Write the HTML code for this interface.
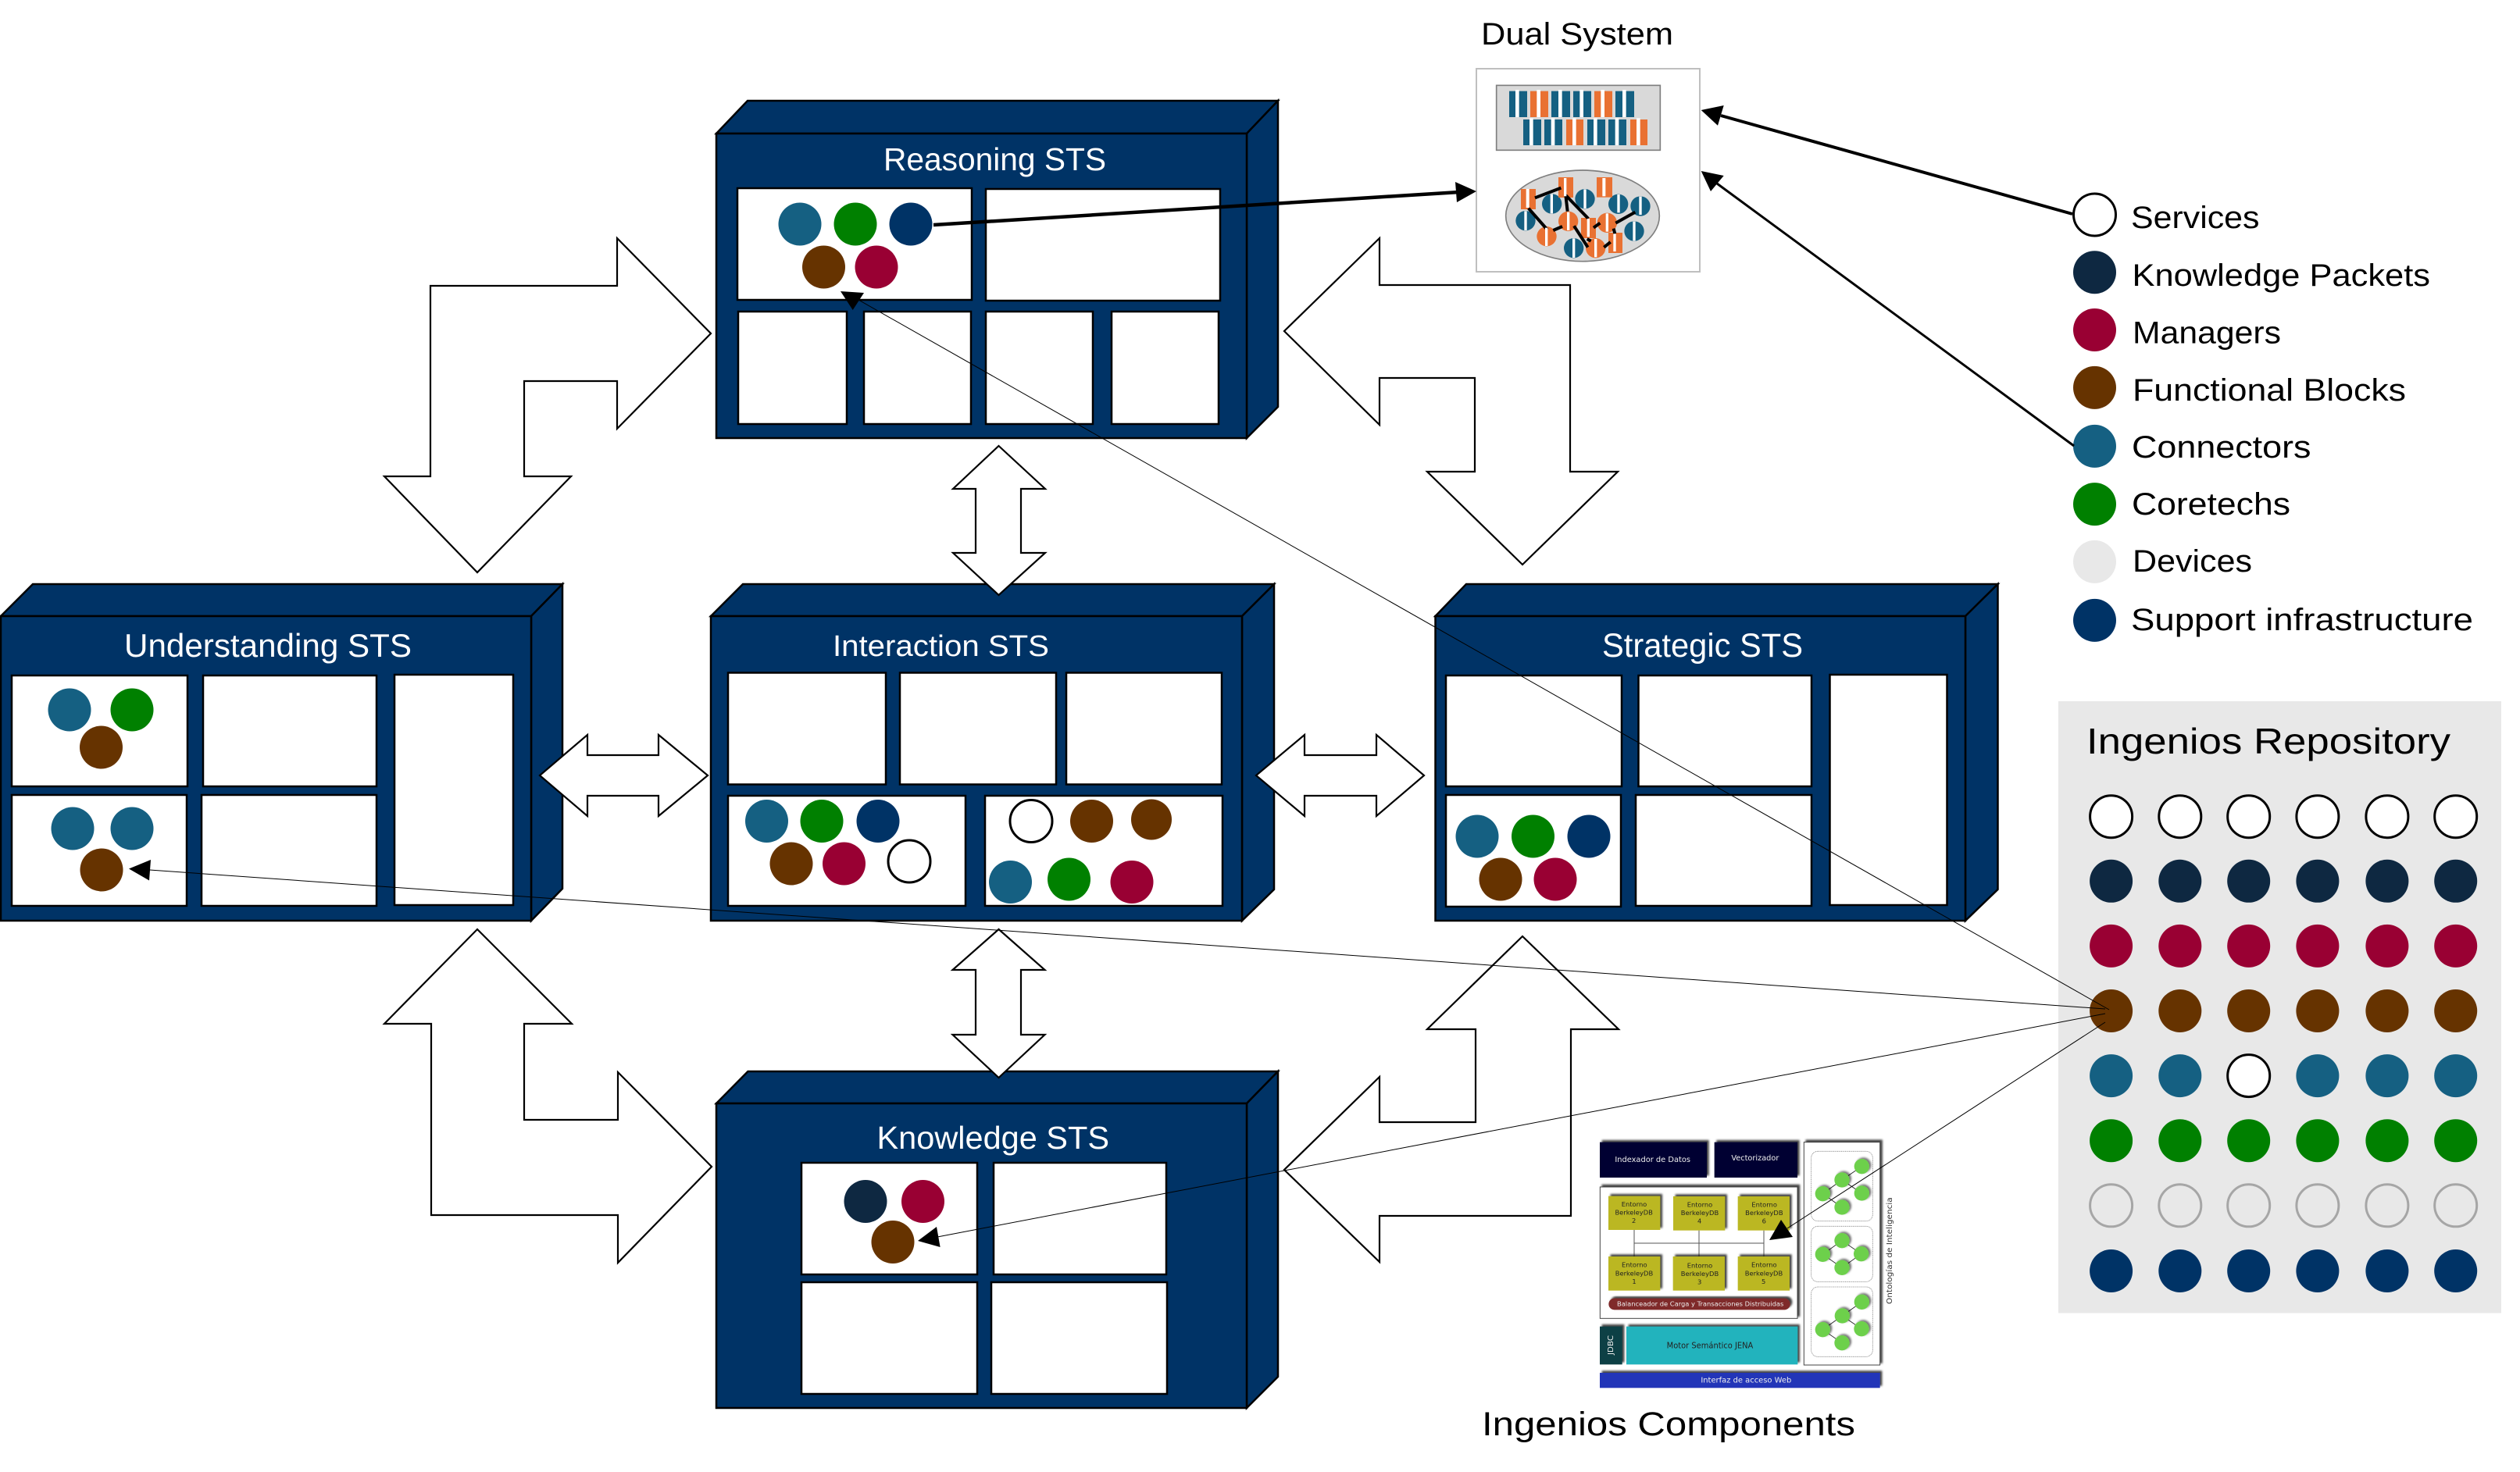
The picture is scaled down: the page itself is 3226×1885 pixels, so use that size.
<!DOCTYPE html>
<html>
<head>
<meta charset="utf-8">
<title>STS Diagram</title>
<style>
html,body{margin:0;padding:0;background:#fff;width:3226px;height:1885px;overflow:hidden}
svg{display:block}
text{font-family:"Liberation Sans",sans-serif}
.box{fill:#003366;stroke:#000;stroke-width:2.5;stroke-linejoin:miter}
.p{fill:#fff;stroke:#000;stroke-width:2.5}
.h{fill:#fff}
.a{fill:#fff;stroke:#000;stroke-width:2.2;stroke-linejoin:miter}
.l{font-size:40px;fill:#000}
.c text{font-family:"DejaVu Sans",sans-serif}
</style>
</head>
<body>
<svg xmlns="http://www.w3.org/2000/svg" width="3226" height="1885" viewBox="0 0 3226 1885">
<defs>
<filter id="sh" x="-20%" y="-20%" width="140%" height="140%"><feDropShadow dx="8" dy="-8" stdDeviation="4" flood-color="#000" flood-opacity=".75"/></filter>
<filter id="sg" x="-40%" y="-40%" width="180%" height="180%"><feDropShadow dx="7" dy="-5" stdDeviation="4" flood-color="#000" flood-opacity=".55"/></filter>
</defs>
<rect width="3226" height="1885" fill="#fff"/>

<!-- Reasoning -->
<polygon class="box" points="917,171 957,129 1636,129 1596,171"/>
<polygon class="box" points="1596,171 1636,129 1636,521 1596,561"/>
<rect class="box" x="917" y="171" width="679" height="390"/>
<text class="h" x="1131" y="218" font-size="41" textLength="285" lengthAdjust="spacingAndGlyphs">Reasoning STS</text>
<rect class="p" x="944" y="241" width="300" height="143"/>
<rect class="p" x="1262" y="242" width="300" height="143"/>
<rect class="p" x="945" y="399" width="139" height="144"/>
<rect class="p" x="1106" y="399" width="137" height="144"/>
<rect class="p" x="1262" y="399" width="137" height="144"/>
<rect class="p" x="1423" y="399" width="137" height="144"/>
<circle cx="1024" cy="287" r="27.5" fill="#156082"/>
<circle cx="1095" cy="287" r="27.5" fill="#008000"/>
<circle cx="1166" cy="287" r="27.5" fill="#003366"/>
<circle cx="1054.5" cy="342" r="27.5" fill="#663300"/>
<circle cx="1122" cy="342" r="27.5" fill="#990033"/>

<!-- Understanding -->
<polygon class="box" points="1,789 42,748 720,748 680,789"/>
<polygon class="box" points="680,789 720,748 720,1138 680,1179"/>
<rect class="box" x="1" y="789" width="679" height="390"/>
<text class="h" x="159" y="841" font-size="42" textLength="368" lengthAdjust="spacingAndGlyphs">Understanding STS</text>
<rect class="p" x="15" y="865" width="225" height="142"/>
<rect class="p" x="260" y="865" width="222" height="142"/>
<rect class="p" x="505" y="864" width="152" height="295"/>
<rect class="p" x="15" y="1018" width="224" height="142"/>
<rect class="p" x="258" y="1018" width="224" height="142"/>
<circle cx="89" cy="909" r="27.5" fill="#156082"/>
<circle cx="169" cy="909" r="27.5" fill="#008000"/>
<circle cx="129.5" cy="957" r="27.5" fill="#663300"/>
<circle cx="93" cy="1061" r="27.5" fill="#156082"/>
<circle cx="169" cy="1061" r="27.5" fill="#156082"/>
<circle cx="130" cy="1114" r="27.5" fill="#663300"/>

<!-- Interaction -->
<polygon class="box" points="910,789 951,748 1631,748 1590,789"/>
<polygon class="box" points="1590,789 1631,748 1631,1139 1590,1179"/>
<rect class="box" x="910" y="789" width="680" height="390"/>
<text class="h" x="1066" y="840" font-size="38" textLength="277" lengthAdjust="spacingAndGlyphs">Interaction STS</text>
<rect class="p" x="932" y="861.5" width="202" height="143"/>
<rect class="p" x="1152" y="861.5" width="200" height="143"/>
<rect class="p" x="1365" y="861.5" width="199" height="143"/>
<rect class="p" x="932" y="1019" width="304" height="141"/>
<rect class="p" x="1261" y="1019" width="304" height="141"/>
<circle cx="981.5" cy="1051.5" r="27.5" fill="#156082"/>
<circle cx="1052" cy="1051.5" r="27.5" fill="#008000"/>
<circle cx="1124" cy="1051.5" r="27.5" fill="#003366"/>
<circle cx="1013" cy="1106" r="27.5" fill="#663300"/>
<circle cx="1080.5" cy="1106" r="27.5" fill="#990033"/>
<circle cx="1164" cy="1103" r="27" fill="#fff" stroke="#000" stroke-width="3"/>
<circle cx="1320" cy="1051.5" r="27" fill="#fff" stroke="#000" stroke-width="3"/>
<circle cx="1397.5" cy="1051.5" r="27.5" fill="#663300"/>
<circle cx="1474" cy="1049.5" r="26" fill="#663300"/>
<circle cx="1293.5" cy="1129.5" r="27.5" fill="#156082"/>
<circle cx="1368.5" cy="1126" r="27.5" fill="#008000"/>
<circle cx="1449" cy="1129.5" r="27.5" fill="#990033"/>

<!-- Strategic -->
<polygon class="box" points="1837.5,789 1877,748 2557.5,748 2516,789"/>
<polygon class="box" points="2516,789 2557.5,748 2557.5,1139 2516,1179"/>
<rect class="box" x="1837.5" y="789" width="678.5" height="390"/>
<text class="h" x="2051" y="841" font-size="43" textLength="257" lengthAdjust="spacingAndGlyphs">Strategic STS</text>
<rect class="p" x="1851" y="865" width="225" height="142"/>
<rect class="p" x="2097.5" y="865" width="221.5" height="142"/>
<rect class="p" x="2342.5" y="864" width="150" height="295"/>
<rect class="p" x="1851" y="1018" width="224" height="143"/>
<rect class="p" x="2094" y="1018" width="225" height="142"/>
<circle cx="1891" cy="1071" r="27.5" fill="#156082"/>
<circle cx="1962.5" cy="1071" r="27.5" fill="#008000"/>
<circle cx="2034" cy="1071" r="27.5" fill="#003366"/>
<circle cx="1921" cy="1126" r="27.5" fill="#663300"/>
<circle cx="1991" cy="1126" r="27.5" fill="#990033"/>

<!-- Knowledge -->
<polygon class="box" points="917,1413 957.5,1372 1636,1372 1596,1413"/>
<polygon class="box" points="1596,1413 1636,1372 1636,1763 1596,1803"/>
<rect class="box" x="917" y="1413" width="679" height="390"/>
<text class="h" x="1122.5" y="1471" font-size="41" textLength="297.5" lengthAdjust="spacingAndGlyphs">Knowledge STS</text>
<rect class="p" x="1026" y="1489" width="225" height="143"/>
<rect class="p" x="1272" y="1489" width="221" height="143"/>
<rect class="p" x="1026" y="1642" width="225" height="143"/>
<rect class="p" x="1269" y="1642" width="225" height="143"/>
<circle cx="1108" cy="1538.5" r="27.5" fill="#0e2841"/>
<circle cx="1181.5" cy="1538.5" r="27.5" fill="#990033"/>
<circle cx="1143" cy="1590.5" r="27.5" fill="#663300"/>

<!-- Big arrows -->
<polygon class="a" points="790,305 910,427 790,549 790,488 671,488 671,610 731,610 611,733 492,610 551,610 551,366 790,366"/>
<polygon class="a" points="1644,424 1766,305 1766,365 2010,365 2010,604 2071,604 1949,723 1827,604 1888,604 1888,484 1766,484 1766,544"/>
<polygon class="a" points="611,1190 732,1311 671,1311 671,1434 791,1434 791,1373 911,1494 791,1617 791,1556 552,1556 552,1311 492,1311"/>
<polygon class="a" points="1949,1199 2072,1318 2011,1318 2011,1557 1766,1557 1766,1616 1644,1498 1766,1379 1766,1437 1889,1437 1889,1318 1827,1318"/>
<polygon class="a" points="1278.5,571 1338,626 1307,626 1307,708 1338,708 1278.5,762 1220,708 1249,708 1249,626 1220,626"/>
<polygon class="a" points="1278.5,1190 1337.5,1242 1307,1242 1307,1325 1337.5,1325 1278.5,1380 1219.5,1325 1249,1325 1249,1242 1219.5,1242"/>
<polygon class="a" points="691,993 752,941 752,967 843,967 843,941 906,993 843,1045 843,1019 752,1019 752,1045"/>
<polygon class="a" points="1608,993 1670,941 1670,967 1762,967 1762,941 1823,993 1762,1045 1762,1019 1670,1019 1670,1045"/>

<!-- Dual System -->
<text x="1896" y="57" font-size="40" textLength="246" lengthAdjust="spacingAndGlyphs">Dual System</text>
<rect x="1890" y="88" width="286" height="260" fill="#fff" stroke="#bfbfbf" stroke-width="2"/>
<g transform="translate(1850,0) scale(.33333)">
<rect x="197" y="328" width="629" height="249" fill="#d9d9d9" stroke="#7f7f7f" stroke-width="5"/>
<g fill="#156082">
<rect x="246" y="350" width="69" height="100"/><rect x="408" y="350" width="72" height="100"/><rect x="492" y="350" width="69" height="100"/><rect x="654" y="350" width="72" height="100"/>
<rect x="300" y="459" width="69" height="99"/><rect x="381" y="459" width="69" height="99"/><rect x="546" y="459" width="69" height="99"/><rect x="627" y="459" width="69" height="99"/>
</g>
<g fill="#e97132">
<rect x="327" y="350" width="69" height="100"/><rect x="573" y="350" width="69" height="100"/>
<rect x="465" y="459" width="66" height="99"/><rect x="711" y="459" width="66" height="99"/>
</g>
<g fill="#fff">
<rect x="270" y="345" width="14" height="105"/><rect x="352" y="345" width="14" height="105"/><rect x="435" y="345" width="14" height="105"/><rect x="517" y="345" width="14" height="105"/><rect x="598" y="345" width="14" height="105"/><rect x="681" y="345" width="14" height="105"/>
<rect x="324" y="454" width="14" height="104"/><rect x="407" y="454" width="14" height="104"/><rect x="489" y="454" width="14" height="104"/><rect x="570" y="454" width="14" height="104"/><rect x="653" y="454" width="14" height="104"/><rect x="735" y="454" width="14" height="104"/>
</g>
<ellipse cx="528" cy="829" rx="295" ry="175" fill="#d9d9d9" stroke="#7f7f7f" stroke-width="5"/>
<g fill="#156082">
<circle cx="410" cy="783" r="38"/><circle cx="537" cy="764" r="38"/><circle cx="665" cy="784" r="38"/><circle cx="750" cy="792" r="38"/><circle cx="309" cy="848" r="38"/><circle cx="726" cy="888" r="38"/><circle cx="494" cy="953" r="38"/>
</g>
<g fill="#e97132">
<circle cx="390" cy="908" r="38"/><circle cx="473" cy="850" r="38"/><circle cx="622" cy="856" r="38"/><circle cx="578" cy="953" r="38"/>
<rect x="291" y="726" width="57" height="78"/><rect x="435" y="681" width="57" height="78"/><rect x="582" y="681" width="60" height="77"/><rect x="522" y="837" width="57" height="78"/><rect x="627" y="894" width="54" height="78"/>
</g>
<g stroke="#000" stroke-width="12" fill="none">
<line x1="345" y1="760" x2="445" y2="722"/><line x1="463" y1="750" x2="470" y2="812"/><line x1="463" y1="750" x2="550" y2="840"/><line x1="320" y1="800" x2="392" y2="882"/><line x1="415" y1="885" x2="450" y2="870"/><line x1="495" y1="868" x2="548" y2="950"/><line x1="570" y1="875" x2="595" y2="857"/><line x1="655" y1="857" x2="730" y2="815"/><line x1="647" y1="878" x2="652" y2="898"/><line x1="610" y1="950" x2="635" y2="930"/><line x1="545" y1="918" x2="560" y2="926"/>
</g>
<g fill="#fff">
<rect x="404" y="746" width="10" height="74"/><rect x="532" y="727" width="10" height="74"/><rect x="661" y="747" width="10" height="70"/><rect x="745" y="755" width="10" height="70"/><rect x="304" y="811" width="10" height="74"/><rect x="721" y="851" width="10" height="74"/><rect x="489" y="916" width="10" height="74"/><rect x="384" y="875" width="10" height="70"/><rect x="468" y="815" width="10" height="70"/><rect x="617" y="820" width="10" height="70"/><rect x="573" y="918" width="10" height="70"/>
<rect x="311" y="726" width="12" height="72"/><rect x="456" y="684" width="10" height="70"/><rect x="604" y="684" width="12" height="70"/><rect x="545" y="840" width="10" height="70"/><rect x="646" y="898" width="10" height="68"/>
</g>
</g>

<!-- Legend -->
<circle cx="2681.5" cy="275" r="27" fill="#fff" stroke="#000" stroke-width="3"/>
<circle cx="2681.5" cy="348.7" r="27.5" fill="#0e2841"/>
<circle cx="2681.5" cy="422.5" r="27.5" fill="#990033"/>
<circle cx="2681.5" cy="496.4" r="27.5" fill="#663300"/>
<circle cx="2681.5" cy="571.4" r="27.5" fill="#156082"/>
<circle cx="2681.5" cy="645.6" r="27.5" fill="#008000"/>
<circle cx="2681.5" cy="719.4" r="27.5" fill="#e8e8e8"/>
<circle cx="2681.5" cy="794.4" r="27.5" fill="#003366"/>
<text class="l" x="2728" y="292" textLength="164.5" lengthAdjust="spacingAndGlyphs">Services</text>
<text class="l" x="2729.5" y="366" textLength="381.5" lengthAdjust="spacingAndGlyphs">Knowledge Packets</text>
<text class="l" x="2730" y="439.5" textLength="190" lengthAdjust="spacingAndGlyphs">Managers</text>
<text class="l" x="2730" y="513" textLength="350" lengthAdjust="spacingAndGlyphs">Functional Blocks</text>
<text class="l" x="2729" y="586" textLength="229.5" lengthAdjust="spacingAndGlyphs">Connectors</text>
<text class="l" x="2729" y="659" textLength="203" lengthAdjust="spacingAndGlyphs">Coretechs</text>
<text class="l" x="2730" y="732" textLength="153" lengthAdjust="spacingAndGlyphs">Devices</text>
<text class="l" x="2728" y="807" textLength="438" lengthAdjust="spacingAndGlyphs">Support infrastructure</text>

<!-- Repository -->
<rect x="2635" y="898" width="567" height="783.5" fill="#e8e8e8"/>
<text x="2671" y="965" font-size="46" textLength="466" lengthAdjust="spacingAndGlyphs">Ingenios Repository</text>
<g fill="#fff" stroke="#000" stroke-width="3">
<circle cx="2702.6" cy="1045.7" r="27"/><circle cx="2790.8" cy="1045.7" r="27"/><circle cx="2878.7" cy="1045.7" r="27"/><circle cx="2966.9" cy="1045.7" r="27"/><circle cx="3055.9" cy="1045.7" r="27"/><circle cx="3143.7" cy="1045.7" r="27"/>
</g>
<g fill="#0e2841">
<circle cx="2702.6" cy="1128.3" r="27.5"/><circle cx="2790.8" cy="1128.3" r="27.5"/><circle cx="2878.7" cy="1128.3" r="27.5"/><circle cx="2966.9" cy="1128.3" r="27.5"/><circle cx="3055.9" cy="1128.3" r="27.5"/><circle cx="3143.7" cy="1128.3" r="27.5"/>
</g>
<g fill="#990033">
<circle cx="2702.6" cy="1211.4" r="27.5"/><circle cx="2790.8" cy="1211.4" r="27.5"/><circle cx="2878.7" cy="1211.4" r="27.5"/><circle cx="2966.9" cy="1211.4" r="27.5"/><circle cx="3055.9" cy="1211.4" r="27.5"/><circle cx="3143.7" cy="1211.4" r="27.5"/>
</g>
<g fill="#663300">
<circle cx="2702.6" cy="1294.5" r="27.5"/><circle cx="2790.8" cy="1294.5" r="27.5"/><circle cx="2878.7" cy="1294.5" r="27.5"/><circle cx="2966.9" cy="1294.5" r="27.5"/><circle cx="3055.9" cy="1294.5" r="27.5"/><circle cx="3143.7" cy="1294.5" r="27.5"/>
</g>
<g fill="#156082">
<circle cx="2702.6" cy="1377.6" r="27.5"/><circle cx="2790.8" cy="1377.6" r="27.5"/><circle cx="2966.9" cy="1377.6" r="27.5"/><circle cx="3055.9" cy="1377.6" r="27.5"/><circle cx="3143.7" cy="1377.6" r="27.5"/>
</g>
<circle cx="2878.7" cy="1377.6" r="27" fill="#fff" stroke="#000" stroke-width="3"/>
<g fill="#008000">
<circle cx="2702.6" cy="1460.7" r="27.5"/><circle cx="2790.8" cy="1460.7" r="27.5"/><circle cx="2878.7" cy="1460.7" r="27.5"/><circle cx="2966.9" cy="1460.7" r="27.5"/><circle cx="3055.9" cy="1460.7" r="27.5"/><circle cx="3143.7" cy="1460.7" r="27.5"/>
</g>
<g fill="#e8e8e8" stroke="#a6a6a6" stroke-width="3">
<circle cx="2702.6" cy="1543.8" r="27"/><circle cx="2790.8" cy="1543.8" r="27"/><circle cx="2878.7" cy="1543.8" r="27"/><circle cx="2966.9" cy="1543.8" r="27"/><circle cx="3055.9" cy="1543.8" r="27"/><circle cx="3143.7" cy="1543.8" r="27"/>
</g>
<g fill="#003366">
<circle cx="2702.6" cy="1627.5" r="27.5"/><circle cx="2790.8" cy="1627.5" r="27.5"/><circle cx="2878.7" cy="1627.5" r="27.5"/><circle cx="2966.9" cy="1627.5" r="27.5"/><circle cx="3055.9" cy="1627.5" r="27.5"/><circle cx="3143.7" cy="1627.5" r="27.5"/>
</g>

<!-- Ingenios Components -->
<g class="c" transform="translate(2020,1440) scale(.33333)">
<g filter="url(#sh)">
<rect x="84" y="68" width="411" height="136" fill="#050533"/>
<rect x="524" y="68" width="319" height="136" fill="#050533"/>
<rect x="85" y="240" width="758" height="505" fill="#fff" stroke="#444" stroke-width="3"/>
<rect x="868" y="68" width="292" height="856" fill="#fff" stroke="#444" stroke-width="3"/>
<rect x="84" y="776" width="86" height="146" fill="#0b3f45"/>
<rect x="186" y="776" width="658" height="146" fill="#22b3bd"/>
<rect x="84" y="954" width="1076" height="58" fill="#2434b8"/>
</g>
<g stroke="#555" stroke-width="3" fill="none">
<line x1="216" y1="405" x2="216" y2="507"/><line x1="465" y1="407" x2="465" y2="507"/><line x1="714" y1="407" x2="714" y2="507"/><line x1="216" y1="456" x2="714" y2="456"/>
</g>
<g filter="url(#sh)" fill="#bbb722">
<rect x="117" y="275" width="199" height="130"/><rect x="366" y="276" width="199" height="131"/><rect x="614" y="276" width="199" height="131"/>
<rect x="117" y="507" width="199" height="131"/><rect x="365" y="507" width="199" height="131"/><rect x="614" y="507" width="199" height="131"/>
</g>
<rect filter="url(#sh)" x="118" y="668" width="697" height="44" rx="22" fill="#7f2a2a"/>
<g fill="#eee" font-size="30">
<text x="142" y="144" textLength="290" lengthAdjust="spacingAndGlyphs">Indexador de Datos</text>
<text x="589" y="138" textLength="183" lengthAdjust="spacingAndGlyphs">Vectorizador</text>
<text x="150" y="698" font-size="24" textLength="640" lengthAdjust="spacingAndGlyphs">Balanceador de Carga y Transacciones Distribuidas</text>
<text x="472" y="992" textLength="348" lengthAdjust="spacingAndGlyphs">Interfaz de acceso Web</text>
<text transform="translate(135,885) rotate(-90)" font-size="28" textLength="75" lengthAdjust="spacingAndGlyphs">JDBC</text>
</g>
<g fill="#222" font-size="25" text-anchor="middle">
<text x="216" y="315">Entorno</text><text x="215" y="347">BerkeleyDB</text><text x="215" y="378">2</text>
<text x="468" y="316">Entorno</text><text x="468" y="348">BerkeleyDB</text><text x="467" y="379">4</text>
<text x="716" y="316">Entorno</text><text x="715" y="348">BerkeleyDB</text><text x="715" y="379">6</text>
<text x="217" y="548">Entorno</text><text x="216" y="580">BerkeleyDB</text><text x="216" y="612">1</text>
<text x="468" y="550">Entorno</text><text x="468" y="582">BerkeleyDB</text><text x="467" y="614">3</text>
<text x="715" y="548">Entorno</text><text x="714" y="580">BerkeleyDB</text><text x="713" y="612">5</text>
</g>
<text x="341" y="860" font-size="31" fill="#222" textLength="332" lengthAdjust="spacingAndGlyphs">Motor Semántico JENA</text>
<text transform="translate(1206,690) rotate(-90)" font-size="29" fill="#333" textLength="410" lengthAdjust="spacingAndGlyphs">Ontologías de Inteligencia</text>
<g fill="none" stroke="#888" stroke-width="2.5" stroke-dasharray="3 2">
<rect x="896" y="103" width="236" height="268" rx="25"/><rect x="896" y="391" width="236" height="213" rx="25"/><rect x="896" y="624" width="236" height="268" rx="25"/>
</g>
<g stroke="#111" stroke-width="2.5" fill="none">
<line x1="940" y1="266" x2="1014" y2="213"/><line x1="1014" y1="213" x2="1090" y2="161"/><line x1="1014" y1="213" x2="1090" y2="264"/><line x1="940" y1="266" x2="1014" y2="318"/>
<line x1="940" y1="499" x2="1014" y2="446"/><line x1="1014" y1="446" x2="1088" y2="497"/><line x1="940" y1="499" x2="1014" y2="550"/><line x1="1014" y1="550" x2="1088" y2="497"/>
<line x1="940" y1="788" x2="1015" y2="735"/><line x1="1015" y1="735" x2="1090" y2="682"/><line x1="1015" y1="735" x2="1089" y2="785"/><line x1="940" y1="788" x2="1014" y2="839"/>
</g>
<g fill="#6dd04c" filter="url(#sg)">
<circle cx="940" cy="266" r="29"/><circle cx="1014" cy="213" r="29"/><circle cx="1090" cy="161" r="29"/><circle cx="1090" cy="264" r="29"/><circle cx="1014" cy="318" r="29"/>
<circle cx="940" cy="499" r="29"/><circle cx="1014" cy="446" r="29"/><circle cx="1088" cy="497" r="29"/><circle cx="1014" cy="550" r="29"/>
<circle cx="940" cy="788" r="29"/><circle cx="1015" cy="735" r="29"/><circle cx="1090" cy="682" r="29"/><circle cx="1089" cy="785" r="29"/><circle cx="1014" cy="839" r="29"/>
</g>
</g>
<text x="1897" y="1838" font-size="43" textLength="478" lengthAdjust="spacingAndGlyphs">Ingenios Components</text>

<!-- Connector lines -->
<g fill="none" stroke="#000">
<line x1="1195" y1="288" x2="1868" y2="246" stroke-width="4.5"/>
<line x1="2653" y1="274" x2="2203" y2="148" stroke-width="4"/>
<line x1="2655" y1="571" x2="2198" y2="235" stroke-width="3"/>
<line x1="2700" y1="1293" x2="1092" y2="380" stroke-width="1"/>
<line x1="2695" y1="1292" x2="191.5" y2="1114" stroke-width="1"/>
<line x1="2695" y1="1298" x2="1200" y2="1584" stroke-width="1"/>
<line x1="2695" y1="1309" x2="2288" y2="1573" stroke-width="1"/>
</g>
<g fill="#000">
<polygon points="1890,245 1863,233 1865,259"/>
<polygon points="2177.7,141 2206.7,135 2199,160.7"/>
<polygon points="2177.7,219 2206.7,225 2190,245"/>
<polygon points="1076,373 1106,375 1091.7,397"/>
<polygon points="165,1112.5 193,1101 191,1127.5"/>
<polygon points="1175,1589 1199,1571 1203.6,1597"/>
<polygon points="2280,1562 2265,1588 2295,1584"/>
</g>
</svg>
</body>
</html>
